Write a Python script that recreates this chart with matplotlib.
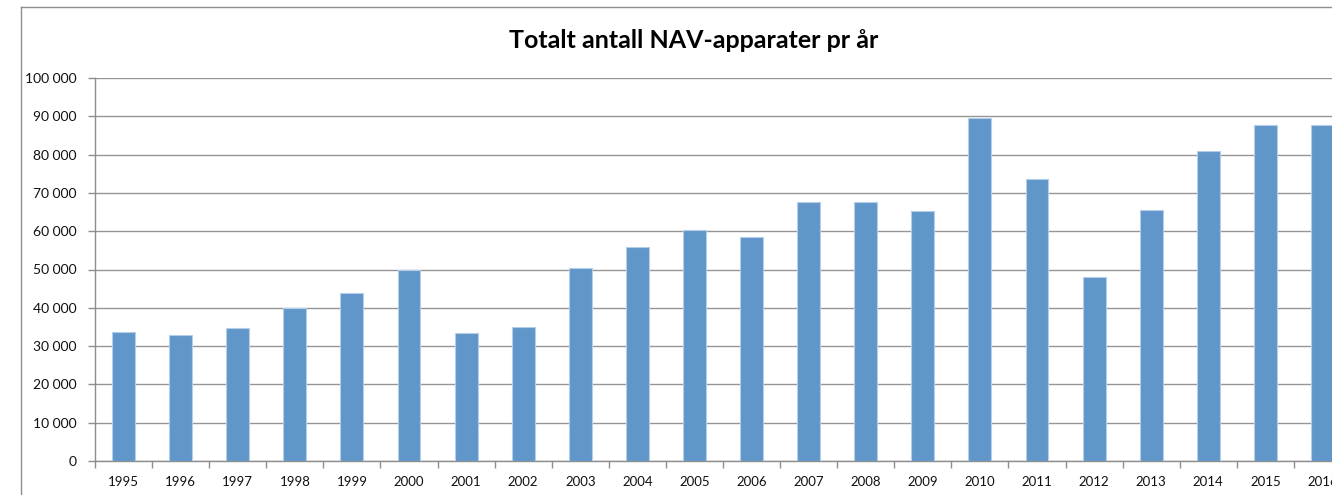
import matplotlib
matplotlib.use("Agg")
import matplotlib.pyplot as plt
from matplotlib.ticker import FuncFormatter, FixedLocator
from matplotlib.lines import Line2D

years = ["1995", "1996", "1997", "1998", "1999", "2000", "2001", "2002",
         "2003", "2004", "2005", "2006", "2007", "2008", "2009", "2010",
         "2011", "2012", "2013", "2014", "2015", "2016"]
values = [33800, 33000, 34700, 40000, 43800, 50000, 33500, 35100,
          50300, 55800, 60400, 58400, 67600, 67600, 65200, 89600,
          73500, 48000, 65500, 81000, 87600, 87600]
y_ticks = [0, 10000, 20000, 30000, 40000, 50000, 60000, 70000, 80000, 90000, 100000]
title = "Totalt antall NAV-apparater pr år"

plt.rcParams['font.family'] = ['Lato', 'DejaVu Sans']

W, H = 1332, 495
fig = plt.figure(figsize=(W / 100, H / 100), dpi=100)

# axes placed so that it extends past the right edge (chart is cropped)
ax_left, ax_right = 95, 1351
ax_top, ax_bottom = 78, 461
ax = fig.add_axes([ax_left / W, (H - ax_bottom) / H,
                   (ax_right - ax_left) / W, (ax_bottom - ax_top) / H])

x = list(range(len(years)))
ax.bar(x, values, width=0.4, color='#6096C9', edgecolor='#b4cde8',
       linewidth=0.8, zorder=3)

ax.set_xlim(-0.5, len(years) - 0.5)
ax.set_ylim(0, 100000)
ax.set_yticks(y_ticks)
ax.yaxis.set_major_formatter(FuncFormatter(lambda v, p: f"{int(v):,}".replace(",", " ")))
ax.grid(axis='y', color='#959595', linewidth=1.0, zorder=0)

ax.set_xticks(x)
ax.set_xticklabels(years)
ax.xaxis.set_minor_locator(FixedLocator([i - 0.5 for i in range(len(years) + 1)]))
ax.tick_params(axis='x', which='major', length=0, pad=11, labelsize=9.5, labelcolor='#111111')
ax.tick_params(axis='x', which='minor', length=5, width=1, color='#8e8e8e', direction='out')
ax.tick_params(axis='y', length=5, width=1, color='#8e8e8e', pad=8, labelsize=10,
               labelcolor='#111111')

for s in ['top', 'right']:
    ax.spines[s].set_visible(False)
for s in ['left', 'bottom']:
    ax.spines[s].set_color('#8e8e8e')
    ax.spines[s].set_linewidth(1.0)

fig.text(694 / W, 1 - 41 / H, title, ha='center', va='center',
         fontsize=18, fontweight='bold', color='#000000')

# outer chart frame (left and top visible)
fig.add_artist(Line2D([21 / W, 21 / W], [0, 1 - 7 / H], transform=fig.transFigure,
                      color='#8e8e8e', linewidth=1.0))
fig.add_artist(Line2D([21 / W, 1], [1 - 7 / H, 1 - 7 / H], transform=fig.transFigure,
                      color='#8e8e8e', linewidth=1.0))

fig.savefig("out.png", dpi=100)
